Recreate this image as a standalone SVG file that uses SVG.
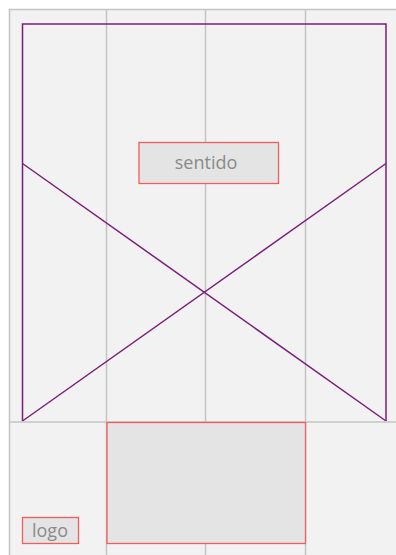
<svg xmlns="http://www.w3.org/2000/svg" width="396" height="555" viewBox="0 0 396 555">
<style>
.grid{stroke:#c4c4c4;stroke-width:1.5;fill:none}
.ph{stroke:#7a1f78;stroke-width:1.5;fill:none}
.box{fill:#e4e4e4;stroke:#f25c5c;stroke-width:1.3}
.lbl{font-family:"Open Sans","Noto Sans",sans-serif;font-size:18px;fill:#8a8a8a;text-anchor:middle}
</style>
<rect x="0" y="0" width="396" height="555" fill="#ffffff"/>
<rect x="9.5" y="9.5" width="390" height="550" fill="#f2f2f2"/>
<g id="grid">
<line class="grid" x1="9.5" y1="9" x2="9.5" y2="555"/>
<line class="grid" x1="9" y1="9.5" x2="396" y2="9.5"/>
<line class="grid" x1="106.5" y1="10" x2="106.5" y2="555"/>
<line class="grid" x1="205.5" y1="10" x2="205.5" y2="555"/>
<line class="grid" x1="305.5" y1="10" x2="305.5" y2="555"/>
</g>
<g id="image-placeholder">
<path class="ph" d="M22.5 421 V24 H386 V421"/>
<line class="ph" x1="22.5" y1="163.5" x2="386" y2="421"/>
<line class="ph" x1="386" y1="163.5" x2="22.5" y2="421"/>
</g>
<line class="grid" x1="10" y1="422" x2="396" y2="422"/>
<g id="sentido">
<rect class="box" x="139" y="142.5" width="139.5" height="41"/>
<text class="lbl" x="206" y="168.5">sentido</text>
</g>
<g id="footer-block">
<rect class="box" x="107" y="422.5" width="198.5" height="121"/>
</g>
<g id="logo">
<rect class="box" x="22.5" y="517.5" width="56" height="26"/>
<text class="lbl" x="50" y="536.5">logo</text>
</g>
</svg>
